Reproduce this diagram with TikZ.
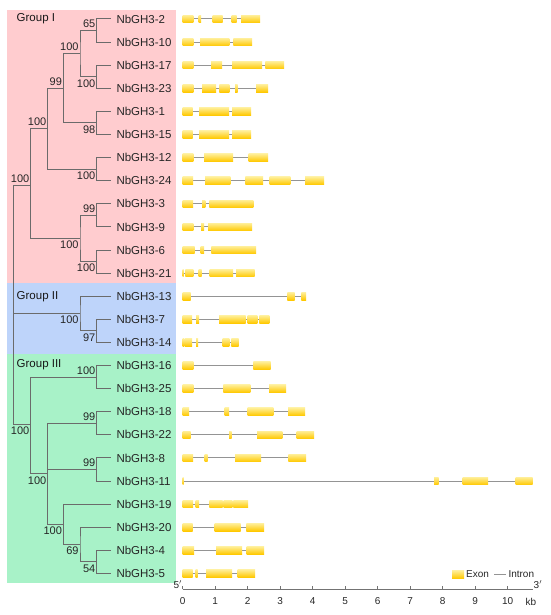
\documentclass[tikz,border=0pt]{standalone}
\usepackage{fontspec}
\setmainfont{Liberation Sans}
\begin{document}
\begin{tikzpicture}[x=1pt,y=-1pt,
  tree/.style={draw=black!58,line width=1pt},
  leaf/.style={anchor=west,inner xsep=5.8pt,inner ysep=0pt,text=black!85,font=\fontsize{11.5}{13}\selectfont},
  bsa/.style={anchor=south east,inner xsep=1.2pt,inner ysep=2.5pt,text=black!85,font=\fontsize{11}{12}\selectfont},
  bsb/.style={anchor=north east,inner xsep=1.2pt,inner ysep=2.5pt,text=black!85,font=\fontsize{11}{12}\selectfont},
  grp/.style={anchor=west,inner sep=0pt,text=black!90,font=\fontsize{11.5}{13}\selectfont},
  intron/.style={draw=black!42,line width=1pt},
  exon/.style={top color=exontop,bottom color=exonbot,draw=none},
  axislbl/.style={text=black!85,font=\fontsize{10}{11}\selectfont},
]
\definecolor{bgpink}{RGB}{255,204,207}
\definecolor{bgblue}{RGB}{190,212,250}
\definecolor{bggreen}{RGB}{168,242,200}
\definecolor{exontop}{RGB}{255,238,150}
\definecolor{exonbot}{RGB}{255,200,0}
\useasboundingbox (0,0) rectangle (550,615);
% backgrounds
\fill[bgpink] (7.3,10) rectangle (175.7,283.3);
\fill[bgblue] (7.3,283.3) rectangle (175.7,354.3);
\fill[bggreen] (7.3,354.3) rectangle (175.7,582.7);
\node[grp] (g1) at (16.5,19) {Group I};
\node[grp] (g2) at (16.5,296.5) {Group II};
\node[grp] (g3) at (16.5,365) {Group III};
% leaves
\foreach \nm/\yy in {2/19,10/42.1,17/65.2,23/88.3,1/111.4,15/134.5,12/157.6,24/180.7,3/203.8,9/226.9,6/250,21/273.1,13/296.2,7/319.3,14/342.4,16/365.5,25/388.6,18/411.7,22/434.8,8/457.9,11/481,19/504.1,20/527.2,4/550.3,5/573.4}{
  \node[leaf] (L\nm) at (110.5,\yy) {NbGH3-\nm};
}
% internal nodes
\coordinate (n1) at (96.7,30.55);
\coordinate (n2) at (96.7,76.75);
\coordinate (n3) at (80,53.65);
\coordinate (n4) at (96.7,122.95);
\coordinate (n5) at (63.3,88.3);
\coordinate (n6) at (96.7,169.15);
\coordinate (n7) at (47.7,128.7);
\coordinate (n8) at (96.7,215.35);
\coordinate (n9) at (96.7,261.55);
\coordinate (n10) at (80,238.45);
\coordinate (nG1) at (30.7,185);
\coordinate (n11) at (96.7,330.85);
\coordinate (nG2) at (80,313.5);
\coordinate (n12) at (96.7,377.05);
\coordinate (n13) at (96.7,423.25);
\coordinate (n14) at (96.7,469.45);
\coordinate (n15) at (96.7,561.85);
\coordinate (n16) at (80,544.5);
\coordinate (n17) at (63.3,524.3);
\coordinate (n18) at (47.7,473.8);
\coordinate (nG3) at (30.7,424);
\coordinate (root) at (13.3,313.5);
% tree edges
\draw[tree] (L2.west) -| (n1) |- (L10.west);
\draw[tree] (L17.west) -| (n2) |- (L23.west);
\draw[tree] (n1) -| (n3) |- (n2);
\draw[tree] (L1.west) -| (n4) |- (L15.west);
\draw[tree] (n3) -| (n5) |- (n4);
\draw[tree] (L12.west) -| (n6) |- (L24.west);
\draw[tree] (n5) -| (n7) |- (n6);
\draw[tree] (L3.west) -| (n8) |- (L9.west);
\draw[tree] (L6.west) -| (n9) |- (L21.west);
\draw[tree] (n8) -| (n10) |- (n9);
\draw[tree] (n7) -| (nG1) |- (n10);
\draw[tree] (L7.west) -| (n11) |- (L14.west);
\draw[tree] (L13.west) -| (nG2) |- (n11);
\draw[tree] (L16.west) -| (n12) |- (L25.west);
\draw[tree] (L18.west) -| (n13) |- (L22.west);
\draw[tree] (L8.west) -| (n14) |- (L11.west);
\draw[tree] (L4.west) -| (n15) |- (L5.west);
\draw[tree] (L20.west) -| (n16) |- (n15);
\draw[tree] (L19.west) -| (n17) |- (n16);
\draw[tree] (n13) -| (n18) |- (n17);
\draw[tree] (n14) -- (n14 -| n18);
\draw[tree] (n12) -| (nG3) |- (n18);
\draw[tree] (nG1) -| (root) |- (nG3);
\draw[tree] (nG2) -- (root);
% bootstrap labels
\node[bsa] at (n1) {65};
\node[bsb] at (n2) {100};
\node[bsa] at (n3) {100};
\node[bsb] at (n4) {98};
\node[bsa] at (n5) {99};
\node[bsb] at (n6) {100};
\node[bsa] at (n7) {100};
\node[bsa] at (n8) {99};
\node[bsb] at (n9) {100};
\node[bsb] at (n10) {100};
\node[bsa] at (nG1) {100};
\node[bsb] at (n11) {97};
\node[bsb] at (nG2) {100};
\node[bsa] at (n12) {100};
\node[bsa] at (n13) {99};
\node[bsa] at (n14) {99};
\node[bsb] at (n15) {54};
\node[bsb] at (n16) {69};
\node[bsb] at (n17) {100};
\node[bsb] at (n18) {100};
\node[bsb] at (nG3) {100};
% gene structures
\newcommand\genestr[3]{%
  \draw[intron] (182.7,#1) -- (#2,#1);
  \foreach \ea/\eb in {#3}{\shade[exon] (\ea,#1-3.8) rectangle (\eb,#1+3.8);}
}
\genestr{19}{260}{182.7/193.3,198.7/201,212.7/222.7,231.7/236.7,241/260}
\genestr{42.1}{252}{182.7/193.3,200/229.3,233.3/252}
\genestr{65.2}{284}{182.7/193.3,211/222,232/262,265.3/284}
\genestr{88.3}{268}{182.7/193.3,202/216,219.3/229.3,235/237.7,256/268}
\genestr{111.4}{251}{182.7/192.7,199/229,232/251}
\genestr{134.5}{251}{182.7/192.7,199/229,232/251}
\genestr{157.6}{268}{182.7/193.3,204/233,248.7/268}
\genestr{180.7}{324}{182.7/193,205/230.3,245.3/263,269.7/290.3,305/324}
\genestr{203.8}{253.3}{182.7/193,202/205.3,209.3/253.3}
\genestr{226.9}{252}{182.7/193.3,201/204,208/252}
\genestr{250}{256}{182.7/194.7,200.7/204,211.3/256}
\genestr{273.1}{254.7}{182.7/183.7,185.3/193.3,198.7/201.7,209.7/233,236/254.7}
\genestr{296.2}{306}{182.7/190.7,287.3/294.7,301.3/306}
\genestr{319.3}{269.3}{182.7/192,196/199,219/245.7,247.7/257.3,259.3/269.3}
\genestr{342.4}{238.7}{182.7/184.3,185/192,196/198,222.7/229.3,231.3/238.7}
\genestr{365.5}{270.7}{182.7/193.3,253.3/270.7}
\genestr{388.6}{286}{182.7/193.3,223.3/250.3,269/286}
\genestr{411.7}{305}{182.7/189,224.7/229,247.7/273.3,288/305}
\genestr{434.8}{314}{182.7/190.7,229/231.7,257/282.3,296.7/314}
\genestr{457.9}{306}{182.7/193,204.7/207.7,235/261,288.3/306}
\genestr{481}{532.7}{182.7/183.5,434/438.7,462.7/488,515.7/532.7}
\genestr{504.1}{248}{182.7/193,195.7/199,209.3/222.7,223.7/232.3,233.3/248}
\genestr{527.2}{264}{182.7/192.7,214.7/240.7,246.3/264}
\genestr{550.3}{264}{182.7/194,216/242,246.7/264}
\genestr{573.4}{255}{182.7/192.7,195.7/197.7,206/232,237.7/255}
% axis
\coordinate (ax0) at (182.7,589.3);
\coordinate (ax1) at (533,589.3);
\draw[draw=black!55,line width=0.9pt] (ax0) -- (ax1);
\foreach \k in {0,...,10}{
  \draw[draw=black!55,line width=0.9pt] (182.7+32.5*\k,589.3) -- (182.7+32.5*\k,586.3);
  \node[axislbl] at (182.7+32.5*\k,601.5) {\k};
}
\node[axislbl] (kb) at (531,601.5) {kb};
\node[axislbl,anchor=south east,inner sep=0.5pt] (p5) at (ax0) {5$'$};
\node[axislbl,anchor=south west,inner sep=0.5pt] (p3) at (ax1) {3$'$};
% legend
\shade[exon] (452,570.5) rectangle (464,578.5);
\node[axislbl,anchor=west,inner sep=0pt] (lex) at (466,574.5) {Exon};
\coordinate (li0) at (494.3,574.5);
\coordinate (li1) at (505.7,574.5);
\draw[intron] (li0) -- (li1);
\node[axislbl,anchor=west,inner sep=0pt] (lin) at (508.3,574.5) {Intron};
\end{tikzpicture}
\end{document}
